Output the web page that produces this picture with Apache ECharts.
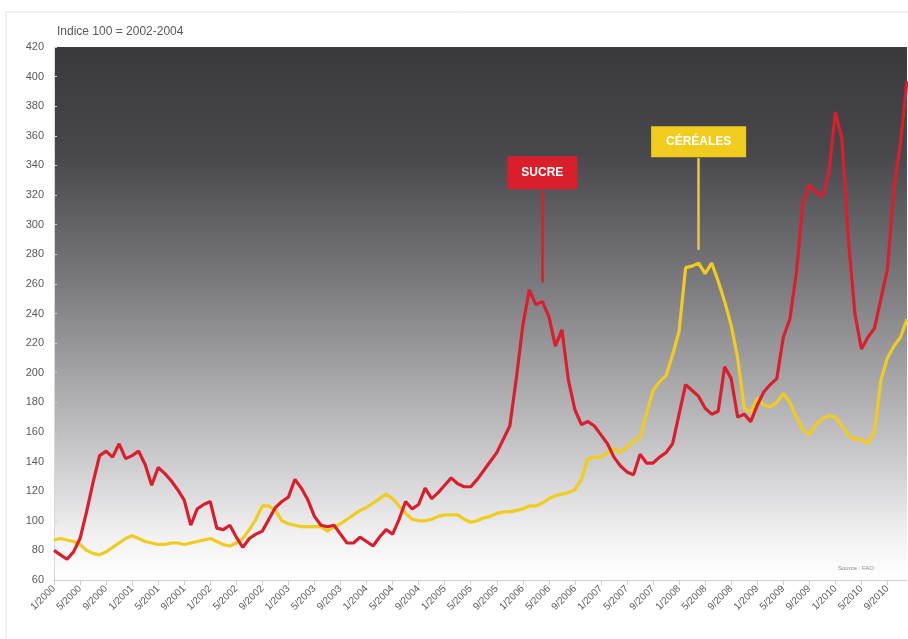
<!DOCTYPE html>
<html>
<head>
<meta charset="utf-8">
<title>Indice des prix FAO – sucre et céréales</title>
<script src="https://cdn.jsdelivr.net/npm/echarts@6/dist/echarts.min.js"></script>
<style>
  html, body { margin: 0; padding: 0; background: #ffffff; }
  #chart { width: 908px; height: 639px; }
</style>
</head>
<body>
<div id="chart"></div>
<script>
// Monthly index values, January 2000 to December 2010 (100 = 2002-2004)
const years = [2000, 2001, 2002, 2003, 2004, 2005, 2006, 2007, 2008, 2009, 2010];
const months = [];
years.forEach(y => { for (let m = 1; m <= 12; m++) months.push(m + '/' + y); });

const sucre = [
  80, 77, 74, 79, 88, 106, 126, 144, 147, 143, 152, 142,
  144, 147, 138, 124, 136, 132, 127, 121, 114, 97, 108, 111,
  113, 95, 94, 97, 89, 82, 88, 91, 93, 101, 109, 113,
  116, 128, 122, 114, 103, 97, 96, 97, 91, 85, 85, 89,
  86, 83, 89, 94, 91, 101, 113, 108, 111, 122, 115, 119,
  124, 129, 125, 123, 123, 128, 134, 140, 146, 155, 164, 196,
  232, 256, 246, 248, 238, 218, 229, 195, 175, 165, 167, 164,
  158, 152, 143, 137, 133, 131, 145, 139, 139, 143, 146, 152,
  172, 192, 188, 184, 176, 172, 174, 204, 196, 170, 172, 167,
  178, 187, 192, 196, 224, 236, 267, 314, 327, 322, 319, 335,
  376, 358, 290, 240, 216, 224, 230, 250, 270, 325, 355, 397
];

const cereales = [
  87, 88, 87, 86, 84, 80, 78, 77, 79, 82, 85, 88,
  90, 88, 86, 85, 84, 84, 85, 85, 84, 85, 86, 87,
  88, 86, 84, 83, 85, 88, 94, 101, 110, 110, 107, 100,
  98, 97, 96, 96, 96, 96, 93, 96, 98, 101, 104, 107,
  109, 112, 115, 118, 115, 110, 105, 101, 100, 100, 101, 103,
  104, 104, 104, 101, 99, 100, 102, 103, 105, 106, 106, 107,
  108, 110, 110, 112, 115, 117, 118, 119, 121, 128, 142, 143,
  143, 146, 149, 146, 150, 154, 156, 172, 188, 194, 198, 212,
  228, 271, 272, 274, 267, 274, 262, 248, 232, 210, 176, 173,
  183, 178, 177, 180, 186, 180, 170, 162, 158, 165, 169, 171,
  170, 164, 158, 155, 155, 152, 160, 195, 210, 218, 224, 236
];

// Callout boxes with their leader lines: [month, box centre value, line top, line bottom]
const sucreCallout = ['4/2006', 335, 323, 261];
const cerealesCallout = ['4/2008', 356, 345, 283];

const RED = '#d91f2c';
const YELLOW = '#f2cb1f';
const FONT = '"Liberation Sans", Arial, sans-serif';

const chart = echarts.init(document.getElementById('chart'));

function callout(spec, text, color, width, height, lineColor) {
  return {
    markLine: {
      silent: true,
      symbol: ['none', 'none'],
      label: { show: false },
      lineStyle: { color: lineColor, width: 2.5, type: 'solid' },
      data: [[{ coord: [spec[0], spec[2]] }, { coord: [spec[0], spec[3]] }]]
    },
    markPoint: {
      silent: true,
      data: [{
        coord: [spec[0], spec[1]],
        symbol: 'rect',
        symbolSize: [width, height],
        itemStyle: { color: color },
        label: {
          show: true, formatter: text, color: '#ffffff',
          fontFamily: FONT, fontSize: 12, fontWeight: 'bold', position: 'inside'
        }
      }]
    }
  };
}

chart.setOption({
  animation: false,
  backgroundColor: '#ffffff',
  textStyle: { fontFamily: FONT },
  graphic: [
    { type: 'rect', silent: true, z: -10,
      shape: { x: 6, y: 12, width: 980, height: 700 },
      style: { fill: 'none', stroke: '#e2e2e2', lineWidth: 1 } },
    { type: 'text', left: 57, top: 26, silent: true,
      style: { text: 'Indice 100 = 2002-2004', fill: '#5a5a5a', font: '12px ' + FONT } },
    { type: 'text', left: 838, top: 565, silent: true,
      style: { text: 'Source : FAO', fill: '#8a8a8a', font: '6px ' + FONT } }
  ],
  grid: {
    left: 54, right: 1, top: 47, bottom: 59,
    show: true, borderWidth: 0,
    backgroundColor: {
      type: 'linear', x: 0, y: 0, x2: 0, y2: 1,
      colorStops: [
        { offset: 0, color: '#3a393e' },
        { offset: 0.2, color: '#48484c' },
        { offset: 0.45, color: '#7c7c80' },
        { offset: 0.65, color: '#adadb0' },
        { offset: 0.8, color: '#d2d2d4' },
        { offset: 0.92, color: '#f2f2f3' },
        { offset: 1, color: '#ffffff' }
      ]
    }
  },
  xAxis: {
    type: 'category',
    data: months,
    boundaryGap: false,
    axisLine: { show: true, lineStyle: { color: '#cfcfcf' } },
    axisTick: { show: true, interval: 3, length: 5, lineStyle: { color: '#cfcfcf' } },
    axisLabel: { interval: 3, rotate: 45, color: '#5a5a5a', fontSize: 10, margin: 7, fontFamily: FONT },
    splitLine: { show: false }
  },
  yAxis: {
    type: 'value',
    min: 60, max: 420, interval: 20,
    axisLine: { show: true, lineStyle: { color: '#d8d8d8' } },
    axisTick: { show: true, length: 3, inside: true, lineStyle: { color: '#d0d0d0' } },
    axisLabel: { color: '#5a5a5a', fontSize: 11, margin: 10, fontFamily: FONT },
    splitLine: { show: false }
  },
  series: [
    Object.assign({
      name: 'Sucre', type: 'line', data: sucre,
      symbol: 'none', smooth: false, z: 3,
      lineStyle: { color: RED, width: 3.2 }
    }, callout(sucreCallout, 'SUCRE', RED, 70, 33, RED)),
    Object.assign({
      name: 'Céréales', type: 'line', data: cereales,
      symbol: 'none', smooth: false, z: 2,
      lineStyle: { color: YELLOW, width: 3.2 }
    }, callout(cerealesCallout, 'CÉRÉALES', YELLOW, 95, 31, '#e6c84c'))
  ]
});
</script>
</body>
</html>
